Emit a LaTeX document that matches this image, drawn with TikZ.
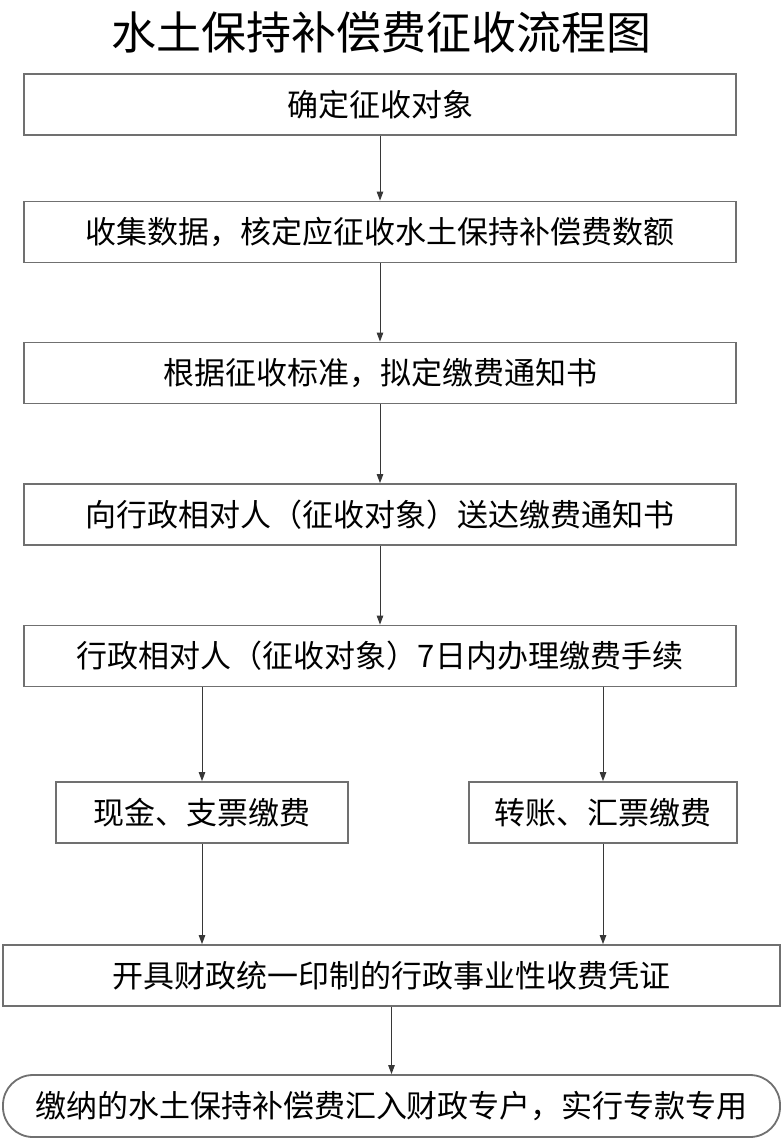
\documentclass[tikz,border=0pt]{standalone}
\usepackage{fontspec}
\setmainfont{Noto Sans CJK SC}
\usetikzlibrary{arrows.meta}
\definecolor{boxgray}{RGB}{112,112,112}
\definecolor{arrgray}{RGB}{55,55,55}
\begin{document}
\begin{tikzpicture}[x=1pt,y=-1pt,
  box/.style={draw=boxgray, line width=1.8pt, minimum height=61pt, inner sep=0pt,
              font=\fontsize{31}{31}\selectfont, text=black},
  arr/.style={draw=arrgray, line width=1pt, -{Triangle[length=9pt,width=6.5pt]}}]
\useasboundingbox (0,0) rectangle (783,1141);
\fill[white] (0,0) rectangle (783,1141);

\node[font=\fontsize{45}{45}\selectfont] (title) at (381,32) {水土保持补偿费征收流程图};

\node[box, minimum width=712pt] (b1) at (380,104.5) {确定征收对象};
\node[box, minimum width=712pt] (b2) at (380,232) {收集数据，核定应征收水土保持补偿费数额};
\node[box, minimum width=712pt] (b3) at (380,373) {根据征收标准，拟定缴费通知书};
\node[box, minimum width=712pt] (b4) at (380,514.5) {向行政相对人（征收对象）送达缴费通知书};
\node[box, minimum width=712pt] (b5) at (380,656) {行政相对人（征收对象）7日内办理缴费手续};
\node[box, minimum width=292pt] (b6) at (202,812.5) {现金、支票缴费};
\node[box, minimum width=268pt] (b7) at (603,812.5) {转账、汇票缴费};
\node[box, minimum width=777pt] (b8) at (391.5,975.5) {开具财政统一印制的行政事业性收费凭证};
\node[box, minimum width=777pt, minimum height=62pt, rounded corners=30pt] (b9) at (391.5,1106) {缴纳的水土保持补偿费汇入财政专户，实行专款专用};

\draw[arr] (b1.south) -- (b2.north);
\draw[arr] (b2.south) -- (b3.north);
\draw[arr] (b3.south) -- (b4.north);
\draw[arr] (b4.south) -- (b5.north);
\draw[arr] (b6.north |- b5.south) -- (b6.north);
\draw[arr] (b7.north |- b5.south) -- (b7.north);
\draw[arr] (b6.south) -- (b6.south |- b8.north);
\draw[arr] (b7.south) -- (b7.south |- b8.north);
\draw[arr] (b8.south) -- (b9.north);
\end{tikzpicture}
\end{document}
